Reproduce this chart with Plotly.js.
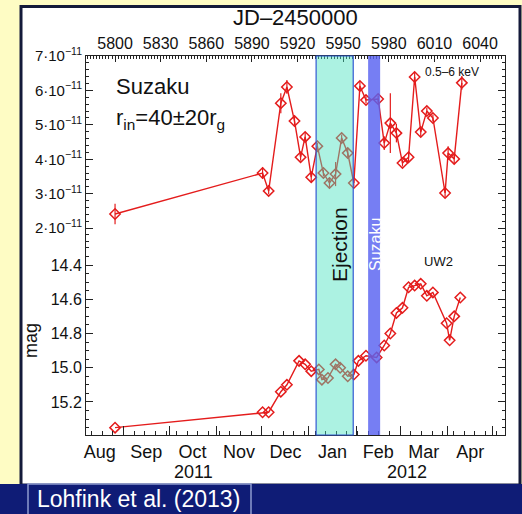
<!DOCTYPE html>
<html>
<head>
<meta charset="utf-8">
<script src="https://cdn.plot.ly/plotly-3.0.1.min.js"></script>
<style>html,body{margin:0;padding:0;background:#fefcc4;}</style>
</head>
<body>
<div id="chart" style="width:522px;height:514px;"></div>
<script>
// 0.5-6 keV X-ray flux: time in JD-2450000, flux and error in units of 1e-11
const fluxJD = [5800, 5897, 5901, 5909, 5913, 5918, 5922, 5925, 5929, 5933, 5937, 5941, 5945, 5949, 5953, 5957,
                5961, 5965, 5973, 5977, 5981, 5985, 5989, 5993, 5997, 6001, 6005, 6009, 6017, 6019, 6023, 6028];
const fluxVal = [2.41, 3.60, 3.08, 5.63, 6.10, 5.11, 4.06, 4.65, 3.48, 4.38, 3.60, 3.31, 3.57, 4.62, 4.18, 3.31,
                 6.13, 5.72, 5.75, 4.47, 5.05, 4.76, 3.89, 4.06, 6.39, 4.79, 5.40, 5.20, 3.02, 4.18, 4.01, 6.22];
const fluxErr = [0.30, 0.17, 0.10, 0.29, 0.20, 0.12, 0.10, 0.12, 0.15, 0.10, 0.10, 0.15, 0.35, 0.10, 0.12, 0.10,
                 0.12, 0.10, 0.10, 0.20, 0.87, 0.27, 0.10, 0.12, 0.12, 0.12, 0.10, 0.10, 0.12, 0.20, 0.12, 0.20];

// UVOT UW2 magnitudes
const magJD = [5800, 5897, 5901, 5909, 5913, 5921, 5925, 5929, 5934, 5936, 5940, 5945, 5948, 5953, 5957, 5960,
               5965, 5972, 5977, 5981, 5985, 5989, 5993, 5997, 6001, 6005, 6009, 6018, 6020, 6023, 6027];
const magVal = [15.35, 15.26, 15.26, 15.14, 15.10, 14.96, 14.98, 15.02, 15.01, 15.07, 15.06, 14.98, 15.00, 15.05, 15.04, 14.96,
                14.93, 14.94, 14.87, 14.80, 14.68, 14.65, 14.53, 14.52, 14.51, 14.58, 14.56, 14.74, 14.84, 14.70, 14.59];

// time windows (JD-2450000)
const ejectionWindow = [5932.2, 5956.6];
const suzakuWindow = [5966.4, 5974.3];
const jdRange = [5780.9, 6056.4];

// tick labels
const fluxTicks = [2, 3, 4, 5, 6, 7];
const fluxTickText = fluxTicks.map(v => v + '·10<sup>−11</sup>');
const yearLabels = ['2011', '2012'];

const RED = 'rgb(228,28,28)';
const FONT = 'Liberation Sans, Arial, sans-serif';

function jdToDate(jd) {
  const ms = (jd + 2450000 - 2440587.5) * 86400000;
  const s = new Date(ms).toISOString();
  return s.slice(0, 10) + ' ' + s.slice(11, 19);
}

// pixel helpers for layout-level decorations
const L = 86, R = 505, T = 56, B = 435;
const px = x => (x - L) / (R - L);
const py = y => (B - y) / (B - T);
const split = py(246);

const traces = [
  {
    x: fluxJD, y: fluxVal.map(v => v * 1e-11),
    error_y: {type: 'data', array: fluxErr.map(v => v * 1e-11), color: RED, thickness: 1.2, width: 0},
    xaxis: 'x3', yaxis: 'y',
    mode: 'lines+markers',
    line: {color: RED, width: 1.4},
    marker: {symbol: 'diamond-open', size: 8, color: RED, line: {width: 1.5, color: RED}},
    hoverinfo: 'skip'
  },
  {
    x: magJD.map(jdToDate), y: magVal,
    xaxis: 'x', yaxis: 'y2',
    mode: 'lines+markers',
    line: {color: RED, width: 1.4},
    marker: {symbol: 'diamond-open', size: 8, color: RED, line: {width: 1.5, color: RED}},
    hoverinfo: 'skip'
  }
];

const axisCommon = {
  showgrid: false, zeroline: false, showline: true, linecolor: '#222', linewidth: 1,
  ticks: 'inside', tickcolor: '#222', tickwidth: 1,
  tickfont: {family: FONT, size: 16, color: '#111'}
};

function label(text, x, y, size, extra) {
  return Object.assign({
    text: text, xref: 'paper', yref: 'paper', x: px(x), y: py(y),
    xanchor: 'center', yanchor: 'middle', showarrow: false,
    font: {family: FONT, size: size, color: '#111'}
  }, extra || {});
}

const layout = {
  width: 522, height: 514,
  margin: {l: L, r: 522 - R, t: T, b: 514 - B, pad: 0},
  paper_bgcolor: '#fefcc4',
  plot_bgcolor: 'rgba(0,0,0,0)',
  showlegend: false,
  font: {family: FONT, color: '#111'},
  xaxis: Object.assign({}, axisCommon, {
    type: 'date', anchor: 'y2', domain: [0, 1],
    range: jdRange.map(jdToDate),
    dtick: 'M1', tick0: '2011-08-01', tickformat: '%b', ticklabelmode: 'period',
    ticklen: 9, tickfont: {family: FONT, size: 18, color: '#111'},
    minor: {dtick: 7 * 86400000, tick0: '2011-09-01', ticklen: 4, ticks: 'inside', tickcolor: '#222'}
  }),
  xaxis2: Object.assign({}, axisCommon, {
    type: 'date', anchor: 'y', overlaying: 'x3', side: 'bottom',
    range: jdRange.map(jdToDate),
    dtick: 'M1', tick0: '2011-08-01', ticklen: 9, showticklabels: false,
    minor: {dtick: 7 * 86400000, tick0: '2011-09-01', ticklen: 4, ticks: 'inside', tickcolor: '#222'}
  }),
  xaxis3: Object.assign({}, axisCommon, {
    anchor: 'y', side: 'top', domain: [0, 1],
    range: jdRange, tick0: 5800, dtick: 30, ticklen: 6,
    minor: {dtick: 2, ticklen: 3, ticks: 'inside', tickcolor: '#222'}
  }),
  yaxis: Object.assign({}, axisCommon, {
    domain: [split, 1], anchor: 'x3',
    range: [1.48e-11, 7.0e-11],
    tickmode: 'array', tickvals: fluxTicks.map(v => v * 1e-11), ticktext: fluxTickText,
    ticklen: 7, mirror: 'ticks', tickfont: {family: FONT, size: 15, color: '#111'},
    minor: {tick0: 0, dtick: 0.2e-11, ticklen: 3, ticks: 'inside', tickcolor: '#222'}
  }),
  yaxis2: Object.assign({}, axisCommon, {
    domain: [0, split], anchor: 'x',
    range: [15.393, 14.289],
    tick0: 14.4, dtick: 0.2, tickformat: '.1f',
    ticklen: 7, mirror: 'ticks',
    title: {text: 'mag', font: {family: FONT, size: 18, color: '#111'}, standoff: 8},
    minor: {dtick: 0.05, ticklen: 3, ticks: 'inside', tickcolor: '#222'}
  }),
  shapes: [
    // white panel with dark frame
    {type: 'rect', xref: 'paper', yref: 'paper', x0: px(21), x1: px(520), y0: py(485), y1: py(6.5),
     fillcolor: '#ffffff', line: {color: '#141a3a', width: 3}, layer: 'below'},
    // ejection window
    {type: 'rect', xref: 'x3', yref: 'paper', x0: ejectionWindow[0], x1: ejectionWindow[1], y0: 0, y1: 1,
     fillcolor: 'rgb(70,226,190)', opacity: 0.45, line: {width: 0}, layer: 'above'},
    {type: 'rect', xref: 'x3', yref: 'paper', x0: ejectionWindow[0], x1: ejectionWindow[1], y0: 0, y1: 1,
     fillcolor: 'rgba(0,0,0,0)', line: {color: 'rgb(50,90,210)', width: 1.2}, layer: 'above'},
    // Suzaku observation window
    {type: 'rect', xref: 'x3', yref: 'paper', x0: suzakuWindow[0], x1: suzakuWindow[1], y0: 0, y1: 1,
     fillcolor: 'rgb(88,98,240)', opacity: 0.82, line: {width: 0}, layer: 'above'},
    // credit bar
    {type: 'rect', xref: 'paper', yref: 'paper', x0: px(0), x1: px(522), y0: py(514), y1: py(484),
     fillcolor: '#0f1c76', line: {width: 0}, layer: 'above'},
    {type: 'rect', xref: 'paper', yref: 'paper', x0: px(28), x1: px(251), y0: py(516), y1: py(484),
     fillcolor: 'rgba(0,0,0,0)', line: {color: '#8f9ad0', width: 1.5}, layer: 'above'}
  ],
  annotations: [
    label('JD–2450000', 295, 17, 22),
    label('Suzaku', 114, 86, 22, {xanchor: 'left'}),
    label('r<sub>in</sub>=40±20r<sub>g</sub>', 114, 119, 22, {xanchor: 'left'}),
    label('0.5–6 keV', 452, 72, 12),
    label('UW2', 438, 261, 13),
    label('Ejection', 339, 245, 21, {textangle: -90}),
    label('Suzaku', 375, 245, 16, {textangle: -90, font: {family: FONT, size: 16, color: '#ffffff'}}),
    label(yearLabels[0], 193, 472, 18),
    label(yearLabels[1], 407, 472, 18),
    label('Lohfink et al. (2013)', 138, 499, 23, {font: {family: FONT, size: 23, color: '#ffffff'}})
  ]
};

Plotly.newPlot('chart', traces, layout, {displayModeBar: false, staticPlot: true});
</script>
</body>
</html>
